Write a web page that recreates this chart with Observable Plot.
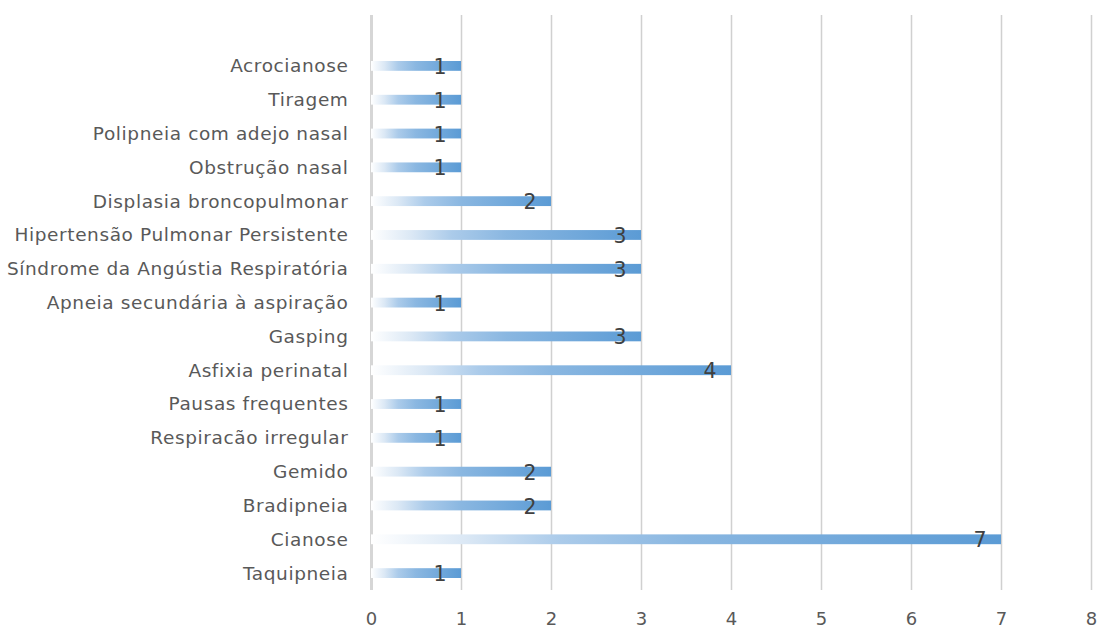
<!DOCTYPE html>
<html>
<head>
<meta charset="utf-8">
<script src="https://cdn.jsdelivr.net/npm/d3@7"></script>
<script src="https://cdn.jsdelivr.net/npm/@observablehq/plot@0.6"></script>
<style>
  html, body { margin: 0; padding: 0; background: #fff; }
  #chart { width: 1100px; height: 630px; }
</style>
</head>
<body>
<div id="chart"></div>
<script>
// Categories listed top to bottom
const categories = [
  "Acrocianose",
  "Tiragem",
  "Polipneia com adejo nasal",
  "Obstrução nasal",
  "Displasia broncopulmonar",
  "Hipertensão Pulmonar Persistente",
  "Síndrome da Angústia Respiratória",
  "Apneia secundária à aspiração",
  "Gasping",
  "Asfixia perinatal",
  "Pausas frequentes",
  "Respiracão irregular",
  "Gemido",
  "Bradipneia",
  "Cianose",
  "Taquipneia"
];
const values = [1, 1, 1, 1, 2, 3, 3, 1, 3, 4, 1, 1, 2, 2, 7, 1];
const xTicks = [0, 1, 2, 3, 4, 5, 6, 7, 8];

const data = categories.map((c, i) => ({category: c, value: values[i]}));

const font = "'DejaVu Sans', Verdana, sans-serif";

const chart = Plot.plot({
  width: 1100,
  height: 630,
  marginLeft: 371,
  marginRight: 9,
  marginTop: 15,
  marginBottom: 40,
  style: {fontFamily: font, fontSize: "18.5px", color: "#595959", background: "#fff"},
  x: {domain: [0, 8], ticks: xTicks, tickSize: 0, tickPadding: 22, label: null},
  y: {domain: categories, range: [49, 590], padding: 0, round: false, tickSize: 0, tickPadding: 23, label: null},
  marks: [
    Plot.ruleX(xTicks.filter(d => d > 0), {stroke: "#d0d0d0", strokeWidth: 1.5}),
    Plot.ruleX([0], {stroke: "#d6d6d6", strokeWidth: 3}),
    Plot.barX(data, {x: "value", y: "category", fill: "url(#barGrad)", insetTop: 12, insetBottom: 12}),
    Plot.text(data, {x: "value", y: "category", text: d => String(d.value), textAnchor: "end", dx: -15, dy: 1, fill: "#404040", fontSize: 20.5})
  ]
});

// gradient definition
const svg = d3.select(chart);
const defs = svg.insert("defs", ":first-child");
const grad = defs.append("linearGradient").attr("id", "barGrad")
  .attr("x1", "0%").attr("x2", "100%").attr("y1", "0%").attr("y2", "0%");
[[0, "#ffffff"], [0.15, "#dbe8f5"], [0.3, "#abcbea"], [0.5, "#8ab7e1"], [1, "#5b9bd5"]]
  .forEach(([o, c]) => grad.append("stop").attr("offset", o).attr("stop-color", c));

// slightly wider letter spacing for category labels (reference is horizontally stretched)
svg.selectAll('[aria-label="y-axis tick label"] text').attr("letter-spacing", 0.6);
svg.selectAll('[aria-label="x-axis tick label"] text').attr("font-size", 18);

document.getElementById("chart").appendChild(chart);
</script>
</body>
</html>
